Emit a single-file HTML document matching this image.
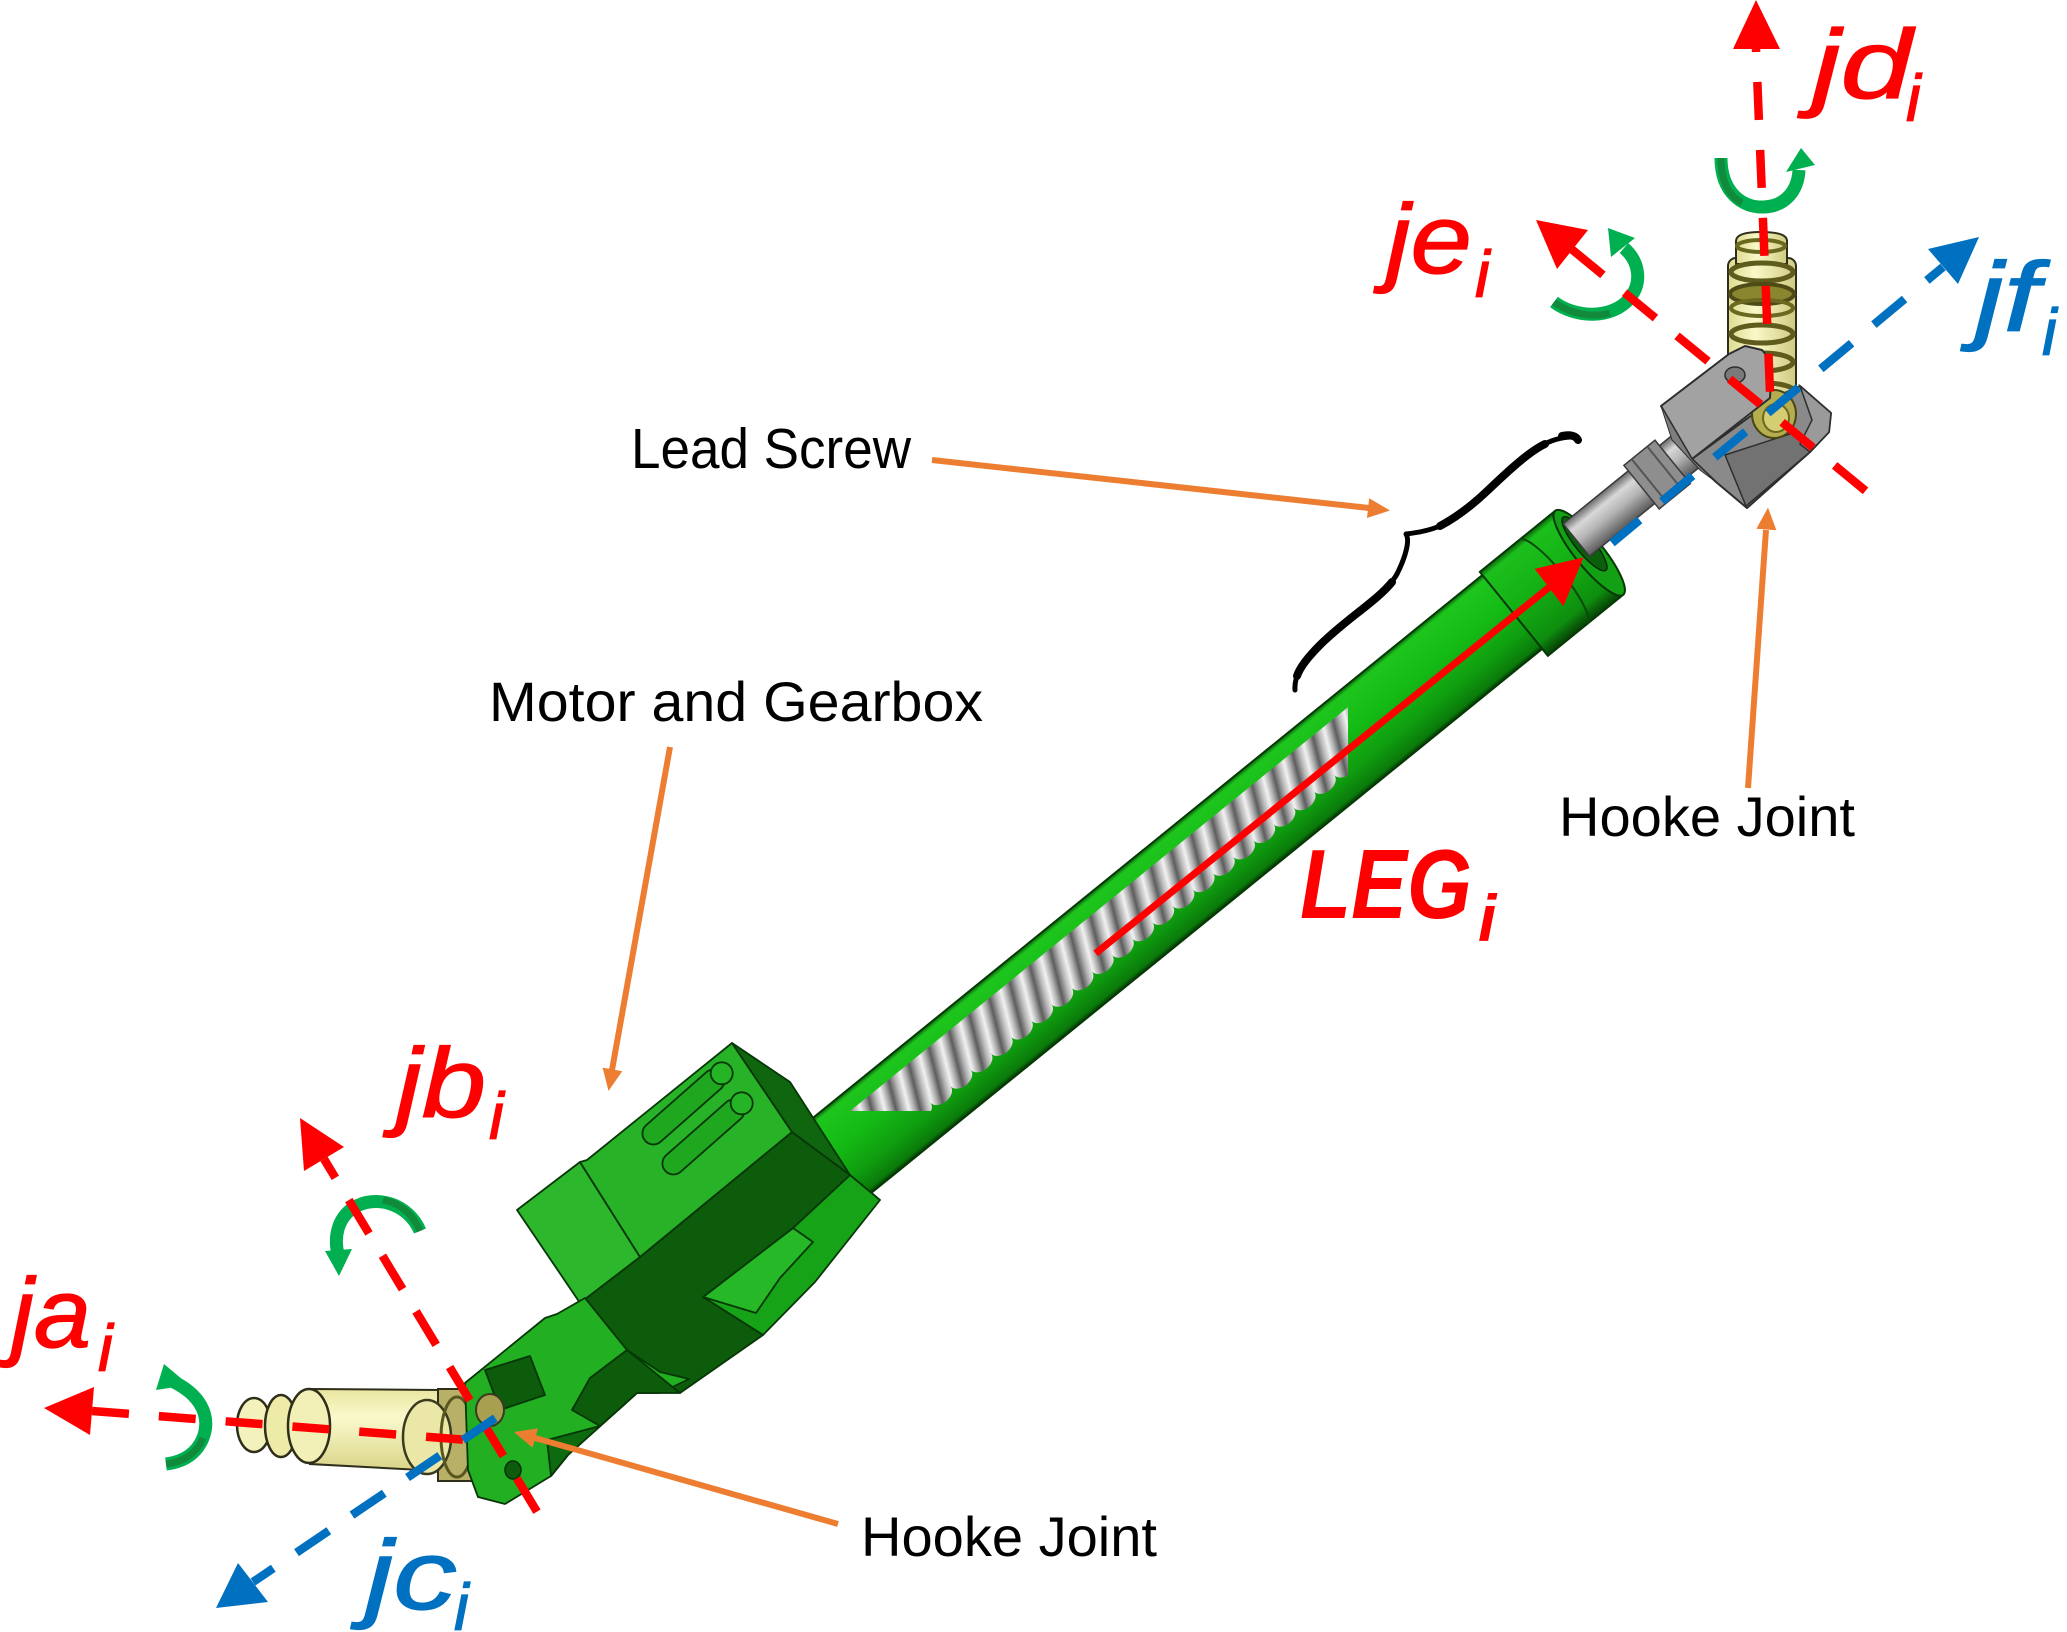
<!DOCTYPE html>
<html><head><meta charset="utf-8"><style>
html,body{margin:0;padding:0;background:#fff;}
svg{display:block;}
.t{font-family:"Liberation Sans",sans-serif;fill:#000;}
.lab{font-family:"Liberation Sans",sans-serif;font-style:italic;}
</style></head><body>
<svg width="2067" height="1632" viewBox="0 0 2067 1632" xmlns="http://www.w3.org/2000/svg">
<defs>
<linearGradient id="tubeG" gradientUnits="userSpaceOnUse" x1="0" y1="0" x2="0" y2="95">
<stop offset="0" stop-color="#0b5e0b"/><stop offset="0.05" stop-color="#1dc51d"/><stop offset="0.4" stop-color="#15bb15"/><stop offset="0.75" stop-color="#0f9c0f"/><stop offset="0.95" stop-color="#0a7a0a"/><stop offset="1" stop-color="#053505"/>
</linearGradient>
<linearGradient id="sleeveG" gradientUnits="userSpaceOnUse" x1="0" y1="-4" x2="0" y2="104">
<stop offset="0" stop-color="#0b5e0b"/><stop offset="0.06" stop-color="#1cbf1c"/><stop offset="0.45" stop-color="#14b014"/><stop offset="0.85" stop-color="#0e8e0e"/><stop offset="1" stop-color="#064006"/>
</linearGradient>
<linearGradient id="shaftG" gradientUnits="userSpaceOnUse" x1="0" y1="11" x2="0" y2="53">
<stop offset="0" stop-color="#6a6a6a"/><stop offset="0.25" stop-color="#d8d8d8"/><stop offset="0.55" stop-color="#b5b5b5"/><stop offset="1" stop-color="#5a5a5a"/>
</linearGradient>
<linearGradient id="ribG" x1="0" y1="0" x2="1" y2="0">
<stop offset="0" stop-color="#5a5a5a"/><stop offset="0.3" stop-color="#b8b8b8"/><stop offset="0.55" stop-color="#f2f2f2"/><stop offset="0.8" stop-color="#a8a8a8"/><stop offset="1" stop-color="#606060"/>
</linearGradient>
<pattern id="ribs" patternUnits="userSpaceOnUse" width="26" height="300" patternTransform="skewX(-25)">
<rect x="0" y="-10" width="26" height="320" fill="url(#ribG)"/>
</pattern>
<linearGradient id="yelG" x1="0" y1="0" x2="0" y2="1">
<stop offset="0" stop-color="#e9e6a0"/><stop offset="0.35" stop-color="#fbf9cc"/><stop offset="1" stop-color="#d8d488"/>
</linearGradient>
<linearGradient id="yelV" x1="0" y1="0" x2="1" y2="0">
<stop offset="0" stop-color="#dedb90"/><stop offset="0.4" stop-color="#faf8c8"/><stop offset="1" stop-color="#cfcb80"/>
</linearGradient>
<clipPath id="bandClip"><rect x="0" y="0" width="1348" height="1111"/></clipPath>
</defs>

<rect width="2067" height="1632" fill="#fff"/>

<!-- Black texts -->
<text class="t" x="631" y="468" font-size="57" textLength="280" lengthAdjust="spacingAndGlyphs">Lead Screw</text>
<text class="t" x="489" y="721" font-size="56" textLength="494" lengthAdjust="spacingAndGlyphs">Motor and Gearbox</text>
<text class="t" x="1559" y="836" font-size="56" textLength="296" lengthAdjust="spacingAndGlyphs">Hooke Joint</text>
<text class="t" x="861" y="1556" font-size="56" textLength="296" lengthAdjust="spacingAndGlyphs">Hooke Joint</text>

<!-- Brace -->
<path d="M1574,437 C1550,436 1528,452 1505,474 C1485,493 1462,515 1440,526 C1428,531 1415,533 1406,534 C1410,540 1406,556 1397,574 C1385,596 1345,620 1320,645 C1300,665 1294,678 1295,690" fill="none" stroke="#000" stroke-width="5" stroke-linecap="round" stroke-linejoin="round"/>
<path d="M1545,444 C1528,452 1505,474 1485,493 C1470,507 1455,518 1440,526" fill="none" stroke="#000" stroke-width="8" stroke-linecap="round"/>
<path d="M1392,582 C1378,600 1345,620 1320,645 C1308,657 1300,667 1297,676" fill="none" stroke="#000" stroke-width="8" stroke-linecap="round"/>
<path d="M1562,436 C1570,434 1576,436 1578,440" fill="none" stroke="#000" stroke-width="8" stroke-linecap="round"/>

<!-- Tube group (local coords along axis) -->
<g transform="translate(1348,684) rotate(-39.04)">
  <rect x="-800" y="0" width="975" height="95" fill="url(#tubeG)" stroke="#063806" stroke-width="2"/>
  <path d="M173,-4 L270,-4 L270,104 L173,104 Z" fill="url(#sleeveG)" stroke="#063806" stroke-width="2"/>
  <path d="M224,-4 A12,54 0 0 1 224,104" fill="none" stroke="#0a4a0a" stroke-width="2"/>
  <ellipse cx="270" cy="50" rx="14" ry="54" fill="#14a014" stroke="#063806" stroke-width="2"/>
  <ellipse cx="272" cy="40" rx="9" ry="34" fill="#0b5e0b" stroke="#042a04" stroke-width="1.5"/>
  <rect x="268" y="11" width="172" height="42" fill="url(#shaftG)" stroke="#3a3a3a" stroke-width="1.5"/>
  <rect x="352" y="4" width="40" height="56" fill="#8e8e8e" stroke="#3a3a3a" stroke-width="1.5"/>
  <line x1="362" y1="4" x2="362" y2="60" stroke="#555" stroke-width="2"/>
  <line x1="382" y1="4" x2="382" y2="60" stroke="#555" stroke-width="2"/>
</g>

<!-- Thread band -->
<g clip-path="url(#bandClip)">
  <g transform="translate(1348,684) rotate(-39.04)">
    <path d="M-740,18 L10,18 L10,62 a13,9 0 0 1 -26,0 a13,9 0 0 1 -26,0 a13,9 0 0 1 -26,0 a13,9 0 0 1 -26,0 a13,9 0 0 1 -26,0 a13,9 0 0 1 -26,0 a13,9 0 0 1 -26,0 a13,9 0 0 1 -26,0 a13,9 0 0 1 -26,0 a13,9 0 0 1 -26,0 a13,9 0 0 1 -26,0 a13,9 0 0 1 -26,0 a13,9 0 0 1 -26,0 a13,9 0 0 1 -26,0 a13,9 0 0 1 -26,0 a13,9 0 0 1 -26,0 a13,9 0 0 1 -26,0 a13,9 0 0 1 -26,0 a13,9 0 0 1 -26,0 a13,9 0 0 1 -26,0 a13,9 0 0 1 -26,0 a13,9 0 0 1 -26,0 a13,9 0 0 1 -26,0 a13,9 0 0 1 -26,0 a13,9 0 0 1 -26,0 a13,9 0 0 1 -26,0 a13,9 0 0 1 -26,0 a13,9 0 0 1 -26,0 a13,9 0 0 1 -26,0 Z" fill="url(#ribs)"/>
  </g>
</g>

<!-- Top yellow cylinder -->
<rect x="1728" y="258" width="68" height="185" rx="8" fill="url(#yelV)" stroke="#2e2e1a" stroke-width="2"/>
<path d="M1736,264 L1736,241 Q1736,232 1761,232 Q1787,232 1787,241 L1787,264 Z" fill="url(#yelV)" stroke="#2e2e1a" stroke-width="2"/>
<ellipse cx="1761" cy="246" rx="24" ry="6" fill="none" stroke="#6b6820" stroke-width="4"/>
<ellipse cx="1762" cy="272" rx="31" ry="9" fill="none" stroke="#5e5b1c" stroke-width="5"/>
<ellipse cx="1762" cy="294" rx="32" ry="10" fill="#8a8630" stroke="#4e4b16" stroke-width="4"/>
<ellipse cx="1762" cy="308" rx="31" ry="8" fill="none" stroke="#6b6820" stroke-width="4"/>
<ellipse cx="1762" cy="334" rx="31" ry="9" fill="none" stroke="#5e5b1c" stroke-width="5"/>
<ellipse cx="1762" cy="362" rx="31" ry="9" fill="none" stroke="#5e5b1c" stroke-width="5"/>
<ellipse cx="1764" cy="392" rx="31" ry="9" fill="none" stroke="#5e5b1c" stroke-width="5"/>

<!-- Gray block -->
<path d="M1692,459 L1778,396 L1800,386 L1831,413 L1829,432 L1810,452 L1747,508 L1716,482 Z" fill="#8a8a8a" stroke="#2e2e2e" stroke-width="2" stroke-linejoin="round"/>
<path d="M1725,455 L1746,506 L1810,452 L1796,432 Z" fill="#727272" stroke="#2e2e2e" stroke-width="1.5"/>
<ellipse cx="1774" cy="414" rx="22" ry="24" fill="#b6ae4e" stroke="#4a4616" stroke-width="2"/>
<ellipse cx="1776" cy="418" rx="13" ry="14" fill="#d4cd72" stroke="#6b6820" stroke-width="2"/>
<path d="M1800,386 L1831,413 L1829,432 L1810,452 L1800,444 L1812,420 Z" fill="#9a9a9a" stroke="#2e2e2e" stroke-width="1.5"/>
<path d="M1661,406 L1729,354 L1745,346 L1762,350 L1772,362 L1770,398 L1692,459 Z" fill="#a2a2a2" stroke="#2e2e2e" stroke-width="2" stroke-linejoin="round"/>
<path d="M1661,406 L1692,459 L1716,482 L1700,470 L1672,440 Z" fill="#7e7e7e" stroke="#2e2e2e" stroke-width="1"/>
<ellipse cx="1735" cy="375" rx="10" ry="8" fill="#7a7a7a" stroke="#2e2e2e" stroke-width="1.5"/>

<!-- Gearbox -->
<g stroke="#073607" stroke-width="1.8" stroke-linejoin="round">
  <path d="M793,1228 L703,1297 L763,1335 L815,1282 L880,1200 L850,1175 Z" fill="#17a317"/>
  <path d="M703,1297 L793,1228 L813,1242 L780,1278 L756,1313 Z" fill="#27b827"/>
  <path d="M580,1303 L640,1257 L792,1132 L850,1175 L793,1228 L703,1297 L763,1335 L680,1393 L627,1350 Z" fill="#0c5c0c"/>
  <path d="M517,1210 L580,1162 L640,1257 L580,1303 Z" fill="#2cb72c"/>
  <path d="M580,1162 L587,1160 L732,1043 L792,1132 L640,1257 Z" fill="#28b228"/>
  <path d="M732,1043 L790,1082 L850,1175 L792,1132 Z" fill="#0f660f"/>
</g>
<!-- gearbox top cylinders -->
<g transform="translate(721.7,1073.3) rotate(138.6)">
  <rect x="0" y="-11" width="102" height="22" rx="11" fill="#1fa81f" stroke="#073607" stroke-width="1.8"/>
</g>
<circle cx="721.7" cy="1073.3" r="11" fill="#25b425" stroke="#073607" stroke-width="1.8"/>
<g transform="translate(741.7,1103.3) rotate(138.6)">
  <rect x="0" y="-11" width="102" height="22" rx="11" fill="#1fa81f" stroke="#073607" stroke-width="1.8"/>
</g>
<circle cx="741.7" cy="1103.3" r="11" fill="#25b425" stroke="#073607" stroke-width="1.8"/>

<!-- Bottom yellow cylinder -->
<path d="M310,1389 L440,1390 L440,1471 L310,1464 Z" fill="url(#yelG)" stroke="#2e2e1a" stroke-width="2"/>
<rect x="438" y="1389" width="40" height="92" fill="#b7b066" stroke="#2e2e1a" stroke-width="2"/>
<ellipse cx="254" cy="1425" rx="17" ry="27" fill="#f4f2bc" stroke="#2e2e1a" stroke-width="2.5"/>
<ellipse cx="281" cy="1426" rx="16" ry="31" fill="#eeeba8" stroke="#2e2e1a" stroke-width="2.5"/>
<ellipse cx="309" cy="1426" rx="21" ry="37" fill="#f2f0b6" stroke="#2e2e1a" stroke-width="2.5"/>
<ellipse cx="427" cy="1437" rx="24" ry="37" fill="#ebe7a6" stroke="#3a3a20" stroke-width="2.5"/>
<ellipse cx="457" cy="1437" rx="16" ry="40" fill="none" stroke="#5a5620" stroke-width="3"/>

<!-- Lower bracket -->
<g stroke="#073607" stroke-width="1.8" stroke-linejoin="round">
  <path d="M465,1383 L545,1318 L557,1314 L585,1298 L627,1350 L660,1372 L689,1379 L660,1393 L637,1393 L626,1403 L568,1455 L551,1476 L505,1504 L478,1497 L468,1470 Z" fill="#22b022"/>
  <path d="M485,1370 L530,1356 L545,1395 L500,1410 Z" fill="#0c5c0c"/>
  <path d="M590,1378 L627,1350 L680,1393 L637,1393 L626,1403 L600,1426 L572,1410 Z" fill="#0c5c0c"/>
  <path d="M547,1440 L600,1426 L626,1403 L568,1455 L551,1476 Z" fill="#0e6a0e"/>
</g>
<ellipse cx="490" cy="1410" rx="14" ry="16" fill="#a8a050" stroke="#3a3a20" stroke-width="2"/>
<ellipse cx="513" cy="1470" rx="8" ry="9" fill="#0c5c0c" stroke="#063006" stroke-width="1.5"/>

<!-- Orange arrows -->
<g stroke="#ed7d31" stroke-width="6" fill="none">
  <line x1="932" y1="460" x2="1369" y2="508"/>
  <line x1="670" y1="747" x2="612" y2="1070"/>
  <line x1="1748" y1="788" x2="1766" y2="530"/>
  <line x1="838" y1="1524" x2="535" y2="1438"/>
</g>
<g fill="#ed7d31">
  <polygon points="1390,510.5 1367,518 1369.2,498.2"/>
  <polygon points="608.5,1091 622.2,1071.2 602.6,1067.6"/>
  <polygon points="1768,507.6 1776.4,530.2 1756.4,528.8"/>
  <polygon points="514,1432 537.9,1428.4 532.5,1447.6"/>
</g>

<!-- LEG arrow -->
<line x1="1095.6" y1="953.4" x2="1552" y2="585" stroke="#ff0000" stroke-width="7"/>
<polygon points="1583.5,557.4 1534.7,568.9 1563.4,606.2" fill="#ff0000"/>

<!-- Green rotation arrows -->
<g fill="none" stroke-linecap="butt">
  <path d="M1721,158 C1721,192 1742,208 1764,207 C1786,206 1798,190 1799,170" stroke="#00b050" stroke-width="13"/>
  <path d="M1721,158 C1721,182 1729,196 1742,203" stroke="#118a3c" stroke-width="7"/>
  <path d="M1554,302 C1575,318 1612,320 1630,298 C1642,283 1640,262 1624,248" stroke="#00b050" stroke-width="13"/>
  <path d="M1554,302 C1570,314 1592,318 1610,313" stroke="#118a3c" stroke-width="7"/>
  <path d="M420,1231 C408,1203 375,1194 353,1208 C337,1219 334,1238 338,1254" stroke="#00b050" stroke-width="13"/>
  <path d="M420,1231 C412,1212 398,1203 383,1200" stroke="#118a3c" stroke-width="7"/>
  <path d="M174,1382 C198,1394 212,1414 203,1438 C196,1455 182,1462 166,1464" stroke="#00b050" stroke-width="13"/>
  <path d="M203,1438 C196,1455 182,1462 166,1464" stroke="#118a3c" stroke-width="7"/>
</g>
<g fill="#00b050">
  <polygon points="1786,172 1815,165 1801,148"/>
  <polygon points="1608,228 1611,257 1635,238"/>
  <polygon points="339,1276 325,1251 352,1249"/>
  <polygon points="164,1364 156,1390 189,1385"/>
</g>

<!-- Axes -->
<g fill="none" stroke-width="8.5">
  <path d="M1756,49 L1770,392" stroke="#ff0000" stroke-dasharray="38 30" stroke-dashoffset="35"/>
  <path d="M1572,249.5 L1867,492" stroke="#ff0000" stroke-dasharray="40 28"/>
  <path d="M1943,267 L1612,543" stroke="#0070c0" stroke-dasharray="40 29" stroke-dashoffset="19"/>
  <path d="M92,1411 L468,1440" stroke="#ff0000" stroke-dasharray="37 30"/>
  <path d="M324,1159 L545,1525" stroke="#ff0000" stroke-dasharray="39 26" stroke-dashoffset="17"/>
  <path d="M253,1582 L497,1417" stroke="#0070c0" stroke-dasharray="39 28" stroke-dashoffset="14.5"/>
</g>
<polygon points="1756,0 1733,49 1780,49" fill="#ff0000"/>
<polygon points="1536,220 1557,269 1588,230" fill="#ff0000"/>
<polygon points="1979,237 1928,249 1958,284" fill="#0070c0"/>
<polygon points="44,1408 94,1387 90,1435" fill="#ff0000"/>
<polygon points="300,1118 304,1171 344,1147" fill="#ff0000"/>
<polygon points="216,1608 238,1563 268,1602" fill="#0070c0"/>

<!-- Labels -->
<g class="lab" fill="#ff0000" stroke="#ff0000" stroke-width="1.2">
  <text x="1812" y="98" font-size="98" textLength="100" lengthAdjust="spacingAndGlyphs">jd</text>
  <text x="1906" y="121" font-size="66">i</text>
  <text x="1386" y="273" font-size="98" textLength="86" lengthAdjust="spacingAndGlyphs">je</text>
  <text x="1475" y="297" font-size="66">i</text>
  <text x="396" y="1117" font-size="98" textLength="90" lengthAdjust="spacingAndGlyphs">jb</text>
  <text x="489" y="1139" font-size="66">i</text>
  <text x="11" y="1347" font-size="98" textLength="80" lengthAdjust="spacingAndGlyphs">ja</text>
  <text x="98" y="1371" font-size="66">i</text>
</g>
<g class="lab" fill="#ff0000">
  <text x="1300" y="918" font-size="98" font-weight="bold" textLength="172" lengthAdjust="spacingAndGlyphs">LEG</text>
  <text x="1478" y="941" font-size="66" font-weight="bold">i</text>
</g>
<g class="lab" fill="#0070c0" stroke="#0070c0" stroke-width="1.2">
  <text x="1975" y="331" font-size="98" textLength="64" lengthAdjust="spacingAndGlyphs">jf</text>
  <text x="2042" y="355" font-size="66">i</text>
  <text x="365" y="1609" font-size="98" textLength="92" lengthAdjust="spacingAndGlyphs">jc</text>
  <text x="454" y="1630" font-size="66">i</text>
</g>
</svg>
</body></html>
